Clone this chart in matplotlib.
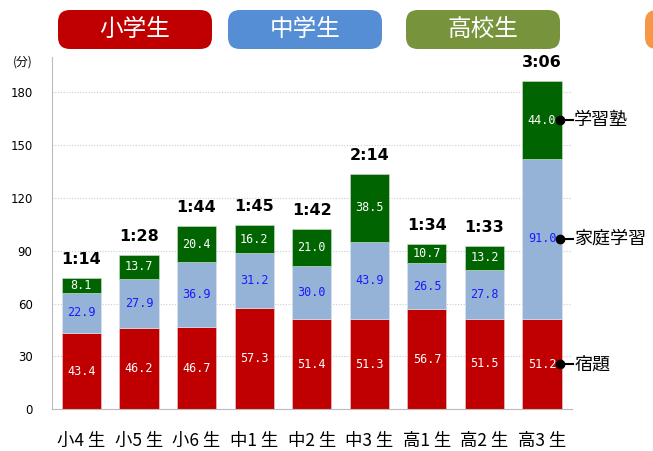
import matplotlib
matplotlib.use("Agg")
import matplotlib.pyplot as plt
from matplotlib.patches import FancyBboxPatch
import numpy as np

plt.rcParams['font.family'] = ['Noto Sans CJK JP', 'DejaVu Sans']

# data
grades = ["小4 生", "小5 生", "小6 生", "中1 生", "中2 生", "中3 生", "高1 生", "高2 生", "高3 生"]
homework = [43.4, 46.2, 46.7, 57.3, 51.4, 51.3, 56.7, 51.5, 51.2]      # 宿題
home_study = [22.9, 27.9, 36.9, 31.2, 30.0, 43.9, 26.5, 27.8, 91.0]    # 家庭学習
cram = [8.1, 13.7, 20.4, 16.2, 21.0, 38.5, 10.7, 13.2, 44.0]           # 学習塾
totals = ["1:14", "1:28", "1:44", "1:45", "1:42", "2:14", "1:34", "1:33", "3:06"]
series_names = ["宿題", "家庭学習", "学習塾"]
school_groups = ["小学生", "中学生", "高校生"]

RED = "#C00000"
LBLUE = "#95B3D7"
GREEN = "#006400"

fig = plt.figure(figsize=(6.53, 4.51), dpi=100)
W, H = 653, 451
ax = fig.add_axes([52 / W, 1 - 409.3 / H, (572 - 52) / W, (409.3 - 57) / H])

x = np.arange(len(grades))
hw = np.array(homework)
hs = np.array(home_study)
cr = np.array(cram)
width = 0.68

ax.bar(x, hw, width, color=RED, edgecolor="#e8d0d0", linewidth=0.4, zorder=2)
ax.bar(x, hs, width, bottom=hw, color=LBLUE, edgecolor="#dde6f0", linewidth=0.4, zorder=2)
ax.bar(x, cr, width, bottom=hw + hs, color=GREEN, edgecolor="#d0e0d0", linewidth=0.4, zorder=2)

mono = dict(family="DejaVu Sans Mono", fontsize=8.5, ha="center", va="center", zorder=3)
for i in range(len(x)):
    ax.text(x[i], hw[i] / 2, f"{hw[i]:.1f}", color="white", **mono)
    ax.text(x[i], hw[i] + hs[i] / 2, f"{hs[i]:.1f}", color="#1a1aff", **mono)
    ax.text(x[i], hw[i] + hs[i] + cr[i] / 2, f"{cr[i]:.1f}", color="white", **mono)
    ax.annotate(totals[i], (x[i], hw[i] + hs[i] + cr[i]), xytext=(0, 8),
                textcoords="offset points", ha="center", va="bottom",
                fontsize=11.5, fontweight="bold", family="DejaVu Sans", color="black")

# series labels on the last bar
last = len(x) - 1
mids = [hw[last] / 2, hw[last] + hs[last] / 2, hw[last] + hs[last] + cr[last] / 2]
for name, m in zip(series_names, mids):
    xr = x[last] + width / 2 - 0.03
    ax.plot([xr, xr + 0.22], [m, m], color="black", lw=1.5, zorder=4, clip_on=False)
    ax.plot([xr], [m], marker="o", ms=6, color="black", zorder=5, clip_on=False)
    ax.text(xr + 0.25, m, name, fontsize=13, ha="left", va="center", color="black")

ax.set_xlim(-0.51, 8.52)
ax.set_ylim(0, 200)
ax.set_yticks(np.arange(0, 181, 30))
ax.tick_params(axis="y", length=0, pad=14, labelsize=8.5, labelcolor="black")
ax.set_xticks(x)
ax.set_xticklabels(grades, fontsize=12.5)
ax.tick_params(axis="x", length=0, pad=16)
for lab in ax.get_yticklabels():
    lab.set_family("DejaVu Sans")
ax.yaxis.grid(True, linestyle=(0, (1, 1.5)), color="#cccccc", linewidth=0.8, zorder=0)
ax.set_axisbelow(True)
for s in ["top", "right"]:
    ax.spines[s].set_visible(False)
ax.spines["left"].set_color("#bbbbbb")
ax.spines["bottom"].set_color("#bbbbbb")
ax.text(-0.056, 0.985, "(分)", transform=ax.transAxes, fontsize=8.5, ha="center", va="center",
        color="black")

# header pills in pixel coordinates
top = fig.add_axes([0, 0, 1, 1], zorder=-1)
top.set_xlim(0, W)
top.set_ylim(H, 0)
top.axis("off")
pills = [(58, 212, "#C00000"), (228, 382, "#558ED5"), (406, 560, "#77933C")]
for (x0, x1, c), label in zip(pills, school_groups):
    p = FancyBboxPatch((x0 + 12, 10 + 12), x1 - x0 - 24, 39 - 24,
                       boxstyle="round,pad=12", fc=c, ec="none")
    top.add_patch(p)
    top.text((x0 + x1) / 2, 29.5, label, color="white", fontsize=17,
             ha="center", va="center")
top.add_patch(FancyBboxPatch((645 + 12, 22), 60, 15, boxstyle="round,pad=12",
                             fc="#F79646", ec="none"))

fig.savefig("out.png", dpi=100)
